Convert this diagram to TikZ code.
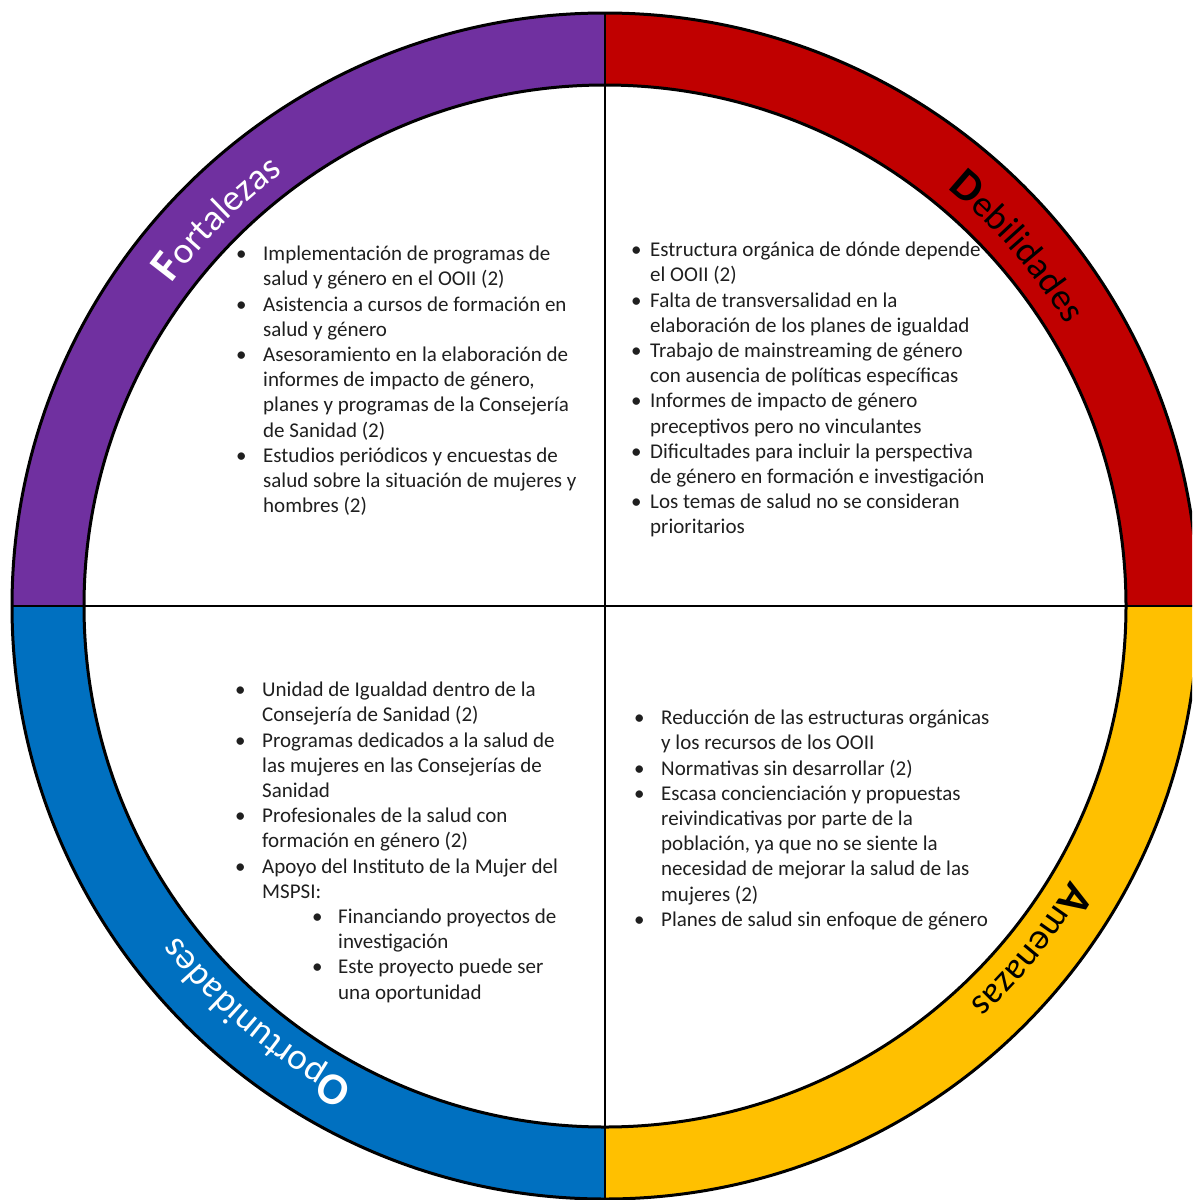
\documentclass[tikz,border=0pt]{standalone}
\usepackage{fontspec}
\setmainfont{Carlito}
\usetikzlibrary{calc,decorations.text}

\definecolor{fortcol}{HTML}{7030A0}
\definecolor{debcol}{HTML}{C00000}
\definecolor{amecol}{HTML}{FFC000}
\definecolor{opocol}{HTML}{0070C0}

\newcommand{\bul}[1][27pt]{\makebox[#1][l]{\textbullet}}
\newcommand{\ind}[1][27pt]{\hspace*{#1}}
\newcommand{\capl}{\fontsize{45}{45}\selectfont\bfseries}
\newcommand{\restl}{\fontsize{37}{37}\selectfont\mdseries}

\begin{document}
\begin{tikzpicture}[
  x=1pt, y=1pt,
  rim/.style={line width=3pt},
  cross/.style={line width=2pt},
  txt/.style={anchor=north west, align=left, inner sep=0pt, text=black!88, font=\fontsize{21}{25.2}\selectfont},
  arclbl/.style={decorate, decoration={text along path, text align=center, text color=#1}}
]
\clip (0,0) rectangle (1192,-1200);
\fill[white] (0,0) rectangle (1192,-1200);
\coordinate (c) at (605,-606);

% ring quarters
\foreach \a/\col in {90/fortcol, 0/debcol, -90/amecol, 180/opocol}
  \fill[\col] ($(c)+(\a:593)$) arc[start angle=\a, end angle=\a+90, radius=593]
    -- ($(c)+(\a+90:521)$) arc[start angle=\a+90, end angle=\a, radius=521] -- cycle;

\draw[rim] (c) circle[radius=593];
\draw[rim] (c) circle[radius=521];
\draw[cross] ($(c)+(180:593)$) -- ($(c)+(0:593)$);
\draw[cross] ($(c)+(90:593)$) -- ($(c)+(-90:593)$);

% labels on the ring
\path[arclbl=white, decoration={text={|\capl|F|\restl|ortalezas}}]
  ($(c)+(175:540)$) arc[start angle=175, end angle=95, radius=540];
\path[arclbl=black, decoration={text={|\capl|D|\restl|ebilidades}}]
  ($(c)+(81:540)$) arc[start angle=81, end angle=1, radius=540];
\path[arclbl=black, decoration={text={|\capl|A|\restl|menazas}}]
  ($(c)+(1:540)$) arc[start angle=1, end angle=-79, radius=540];
\path[arclbl=white, decoration={text={|\capl|O|\restl|portunidades}}]
  ($(c)+(-90:540)$) arc[start angle=-90, end angle=-170, radius=540];

% quadrant texts
\node[txt] (fort) at (236,-246) {%
  \bul Implementación de programas de\\
  \ind salud y género en el OOII (2)\\
  \bul Asistencia a cursos de formación en\\
  \ind salud y género\\
  \bul Asesoramiento en la elaboración de\\
  \ind informes de impacto de género,\\
  \ind planes y programas de la Consejería\\
  \ind de Sanidad (2)\\
  \bul Estudios periódicos y encuestas de\\
  \ind salud sobre la situación de mujeres y\\
  \ind hombres (2)};

\node[txt] (deb) at (631,-242) {%
  \bul[19pt]Estructura orgánica de dónde depende\\
  \ind[19pt]el OOII (2)\\
  \bul[19pt]Falta de transversalidad en la\\
  \ind[19pt]elaboración de los planes de igualdad\\
  \bul[19pt]Trabajo de mainstreaming de género\\
  \ind[19pt]con ausencia de políticas específicas\\
  \bul[19pt]Informes de impacto de género\\
  \ind[19pt]preceptivos pero no vinculantes\\
  \bul[19pt]Dificultades para incluir la perspectiva\\
  \ind[19pt]de género en formación e investigación\\
  \bul[19pt]Los temas de salud no se consideran\\
  \ind[19pt]prioritarios};

\node[txt] (opo) at (235,-682) {%
  \bul Unidad de Igualdad dentro de la\\
  \ind Consejería de Sanidad (2)\\
  \bul Programas dedicados a la salud de\\
  \ind las mujeres en las Consejerías de\\
  \ind Sanidad\\
  \bul Profesionales de la salud con\\
  \ind formación en género (2)\\
  \bul Apoyo del Instituto de la Mujer del\\
  \ind MSPSI:\\
  \ind[77pt]\bul[26pt]Financiando proyectos de\\
  \ind[103pt]investigación\\
  \ind[77pt]\bul[26pt]Este proyecto puede ser\\
  \ind[103pt]una oportunidad};

\node[txt] (ame) at (634,-710) {%
  \bul Reducción de las estructuras orgánicas\\
  \ind y los recursos de los OOII\\
  \bul Normativas sin desarrollar (2)\\
  \bul Escasa concienciación y propuestas\\
  \ind reivindicativas por parte de la\\
  \ind población, ya que no se siente la\\
  \ind necesidad de mejorar la salud de las\\
  \ind mujeres (2)\\
  \bul Planes de salud sin enfoque de género};
\end{tikzpicture}
\end{document}
